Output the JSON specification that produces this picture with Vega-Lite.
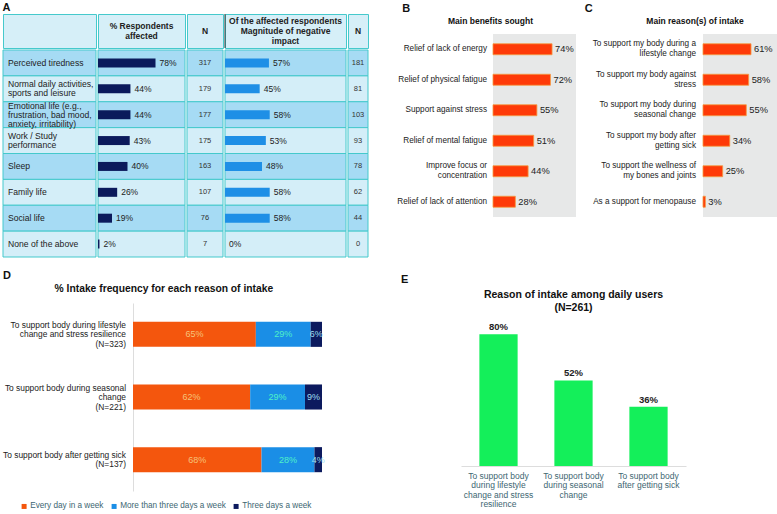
{
  "$schema": "https://vega.github.io/schema/vega-lite/v6.json",
  "background": "white",
  "padding": {"left": 2, "top": 2, "right": 0, "bottom": 0},
  "config": {
    "font": "Liberation Sans",
    "view": {"stroke": null},
    "title": {"font": "Liberation Sans", "color": "#111"},
    "axis": {"labelFont": "Liberation Sans"},
    "legend": {"labelFont": "Liberation Sans"},
    "text": {"font": "Liberation Sans"}
  },
  "datasets": {
    "titles": [
      {"p": "B", "t": "Main benefits sought"},
      {"p": "C", "t": "Main reason(s) of intake"}
    ],
    "head": [
      {"col": "c0", "label": ""},
      {"col": "c1", "label": "% Respondents|affected"},
      {"col": "c2", "label": "N"},
      {"col": "c3", "label": "Of the affected respondents|Magnitude of negative|impact"},
      {"col": "c4", "label": "N"}
    ],
    "table": [
      {"row": "Perceived tiredness", "affected": 0.78, "n1": 317, "magnitude": 0.57, "n2": 181},
      {"row": "Normal daily activities,|sports and leisure", "affected": 0.44, "n1": 179, "magnitude": 0.45, "n2": 81},
      {"row": "Emotional life (e.g.,|frustration,  bad mood,|anxiety, irritability)", "affected": 0.44, "n1": 177, "magnitude": 0.58, "n2": 103},
      {"row": "Work / Study|performance", "affected": 0.43, "n1": 175, "magnitude": 0.53, "n2": 93},
      {"row": "Sleep", "affected": 0.40, "n1": 163, "magnitude": 0.48, "n2": 78},
      {"row": "Family life", "affected": 0.26, "n1": 107, "magnitude": 0.58, "n2": 62},
      {"row": "Social life", "affected": 0.19, "n1": 76, "magnitude": 0.58, "n2": 44},
      {"row": "None of the above", "affected": 0.02, "n1": 7, "magnitude": 0.0, "n2": 0}
    ],
    "benefits": [
      {"label": "Relief of lack of energy", "v": 0.74},
      {"label": "Relief of physical fatigue", "v": 0.72},
      {"label": "Support against stress", "v": 0.55},
      {"label": "Relief of mental fatigue", "v": 0.51},
      {"label": "Improve focus or|concentration", "v": 0.44},
      {"label": "Relief of lack of attention", "v": 0.28}
    ],
    "reasons": [
      {"label": "To support my body during a|lifestyle change", "v": 0.61},
      {"label": "To support my body against|stress", "v": 0.58},
      {"label": "To support my body during|seasonal change", "v": 0.55},
      {"label": "To support my body after|getting sick", "v": 0.34},
      {"label": "To support the wellness of|my bones and joints", "v": 0.25},
      {"label": "As a support for menopause", "v": 0.03}
    ],
    "freq": [
      {"reason": "To support body during lifestyle|change and stress resilience|(N=323)", "cat": "Every day in a week", "pct": 0.65},
      {"reason": "To support body during lifestyle|change and stress resilience|(N=323)", "cat": "More than three days a week", "pct": 0.29},
      {"reason": "To support body during lifestyle|change and stress resilience|(N=323)", "cat": "Three days a week", "pct": 0.06},
      {"reason": "To support body during seasonal|change|(N=221)", "cat": "Every day in a week", "pct": 0.62},
      {"reason": "To support body during seasonal|change|(N=221)", "cat": "More than three days a week", "pct": 0.29},
      {"reason": "To support body during seasonal|change|(N=221)", "cat": "Three days a week", "pct": 0.09},
      {"reason": "To support body after getting sick|(N=137)", "cat": "Every day in a week", "pct": 0.68},
      {"reason": "To support body after getting sick|(N=137)", "cat": "More than three days a week", "pct": 0.28},
      {"reason": "To support body after getting sick|(N=137)", "cat": "Three days a week", "pct": 0.04}
    ],
    "daily": [
      {"reason": "To support body|during lifestyle|change and stress|resilience", "v": 0.80},
      {"reason": "To support body|during seasonal|change", "v": 0.52},
      {"reason": "To support body|after getting sick", "v": 0.36}
    ]
  },
  "spacing": 11,
  "resolve": {"scale": {"color": "independent"}, "legend": {"color": "independent"}},
  "vconcat": [
    {
      "spacing": 28,
      "hconcat": [
        {
          "title": {"text": "A", "anchor": "start", "fontSize": 11, "fontWeight": "bold", "offset": 0},
          "spacing": 0,
          "vconcat": [
            {
              "spacing": 0,
              "hconcat": [
                {
                  "width": 93, "height": 34,
                  "view": {"fill": "#d6eff8", "stroke": "#45c9cc", "strokeWidth": 1},
                  "data": {"name": "head"},
                  "transform": [{"filter": "datum.col == 'c0'"}],
                  "mark": {"type": "text", "lineBreak": "|", "fontWeight": "bold", "fontSize": 8.5, "color": "#222"},
                  "encoding": {"text": {"field": "label"}}
                },
                {
                  "width": 87, "height": 34,
                  "view": {"fill": "#d6eff8", "stroke": "#45c9cc", "strokeWidth": 1},
                  "data": {"name": "head"},
                  "transform": [{"filter": "datum.col == 'c1'"}],
                  "mark": {"type": "text", "lineBreak": "|", "fontWeight": "bold", "fontSize": 8.5, "color": "#222", "lineHeight": 10, "dy": -5},
                  "encoding": {"text": {"field": "label"}}
                },
                {
                  "width": 36, "height": 34,
                  "view": {"fill": "#d6eff8", "stroke": "#45c9cc", "strokeWidth": 1},
                  "data": {"name": "head"},
                  "transform": [{"filter": "datum.col == 'c2'"}],
                  "mark": {"type": "text", "lineBreak": "|", "fontWeight": "bold", "fontSize": 8.5, "color": "#222"},
                  "encoding": {"text": {"field": "label"}}
                },
                {
                  "width": 121, "height": 34,
                  "view": {"fill": "#d6eff8", "stroke": "#45c9cc", "strokeWidth": 1},
                  "data": {"name": "head"},
                  "transform": [{"filter": "datum.col == 'c3'"}],
                  "layer": [
                    {
                      "mark": {"type": "rule", "color": "#333", "strokeWidth": 1},
                      "encoding": {"x": {"datum": 0, "type": "quantitative", "scale": {"domain": [0, 1], "nice": false}, "axis": null}}
                    },
                    {
                      "mark": {"type": "text", "lineBreak": "|", "fontWeight": "bold", "fontSize": 8.5, "color": "#222", "lineHeight": 10, "dy": -10},
                      "encoding": {"text": {"field": "label"}}
                    }
                  ]
                },
                {
                  "width": 20, "height": 34,
                  "view": {"fill": "#d6eff8", "stroke": "#45c9cc", "strokeWidth": 1},
                  "data": {"name": "head"},
                  "transform": [{"filter": "datum.col == 'c4'"}],
                  "mark": {"type": "text", "lineBreak": "|", "fontWeight": "bold", "fontSize": 8.5, "color": "#222"},
                  "encoding": {"text": {"field": "label"}}
                }
              ]
            },
            {
              "spacing": 0,
              "hconcat": [
                {
                  "width": 93, "height": 207,
                  "data": {"name": "table"},
                  "encoding": {
                    "y": {"field": "row", "type": "nominal", "sort": null, "scale": {"paddingInner": 0, "paddingOuter": 0}, "axis": null}
                  },
                  "layer": [
                    {
                      "mark": {"type": "rect", "stroke": "#45c9cc", "strokeWidth": 1},
                      "encoding": {
                        "x": {"datum": 0, "type": "quantitative", "scale": {"domain": [0, 1], "nice": false}, "axis": null},
                        "x2": {"datum": 1},
                        "fill": {"field": "row", "type": "nominal", "sort": null, "legend": null,
                          "scale": {"range": ["#a6dbf4", "#d4eef8", "#a6dbf4", "#d4eef8", "#a6dbf4", "#d4eef8", "#a6dbf4", "#d4eef8"]}}
                      }
                    },
                    {
                      "mark": {"type": "text", "align": "left", "dx": 5, "lineBreak": "|", "lineHeight": 9, "fontSize": 8.6, "color": "#222",
                        "dy": {"expr": "-(length(split(datum.row, '|')) - 1) * 4.5"}},
                      "encoding": {
                        "x": {"datum": 0, "type": "quantitative"},
                        "text": {"field": "row"}
                      }
                    }
                  ]
                },
                {
                  "width": 87, "height": 207,
                  "data": {"name": "table"},
                  "encoding": {
                    "y": {"field": "row", "type": "nominal", "sort": null, "scale": {"paddingInner": 0, "paddingOuter": 0}, "axis": null}
                  },
                  "layer": [
                    {
                      "mark": {"type": "rect", "stroke": "#45c9cc", "strokeWidth": 1},
                      "encoding": {
                        "x": {"datum": 0, "type": "quantitative", "scale": {"domain": [0, 1.18], "nice": false}, "axis": null},
                        "x2": {"datum": 1.18},
                        "fill": {"field": "row", "type": "nominal", "sort": null, "legend": null}
                      }
                    },
                    {
                      "mark": {"type": "bar", "color": "#0b1a5c", "size": 9},
                      "encoding": {"x": {"field": "affected", "type": "quantitative"}}
                    },
                    {
                      "mark": {"type": "text", "align": "left", "dx": 4, "fontSize": 8.5, "color": "#222"},
                      "encoding": {"x": {"field": "affected", "type": "quantitative"}, "text": {"field": "affected", "format": ".0%"}}
                    }
                  ]
                },
                {
                  "width": 36, "height": 207,
                  "data": {"name": "table"},
                  "encoding": {
                    "y": {"field": "row", "type": "nominal", "sort": null, "scale": {"paddingInner": 0, "paddingOuter": 0}, "axis": null}
                  },
                  "layer": [
                    {
                      "mark": {"type": "rect", "stroke": "#45c9cc", "strokeWidth": 1},
                      "encoding": {"fill": {"field": "row", "type": "nominal", "sort": null, "legend": null}}
                    },
                    {
                      "mark": {"type": "text", "fontSize": 7.5, "color": "#333"},
                      "encoding": {"text": {"field": "n1"}}
                    }
                  ]
                },
                {
                  "width": 121, "height": 207,
                  "data": {"name": "table"},
                  "encoding": {
                    "y": {"field": "row", "type": "nominal", "sort": null, "scale": {"paddingInner": 0, "paddingOuter": 0}, "axis": null}
                  },
                  "layer": [
                    {
                      "mark": {"type": "rect", "stroke": "#45c9cc", "strokeWidth": 1},
                      "encoding": {
                        "x": {"datum": 0, "type": "quantitative", "scale": {"domain": [0, 1.57], "nice": false}, "axis": null},
                        "x2": {"datum": 1.57},
                        "fill": {"field": "row", "type": "nominal", "sort": null, "legend": null}
                      }
                    },
                    {
                      "mark": {"type": "rule", "color": "#333", "strokeWidth": 1},
                      "encoding": {"x": {"datum": 0, "type": "quantitative"}}
                    },
                    {
                      "mark": {"type": "bar", "color": "#1e8fe6", "size": 9},
                      "encoding": {"x": {"field": "magnitude", "type": "quantitative"}}
                    },
                    {
                      "mark": {"type": "text", "align": "left", "dx": 4, "fontSize": 8.5, "color": "#222"},
                      "encoding": {"x": {"field": "magnitude", "type": "quantitative"}, "text": {"field": "magnitude", "format": ".0%"}}
                    }
                  ]
                },
                {
                  "width": 20, "height": 207,
                  "data": {"name": "table"},
                  "encoding": {
                    "y": {"field": "row", "type": "nominal", "sort": null, "scale": {"paddingInner": 0, "paddingOuter": 0}, "axis": null}
                  },
                  "layer": [
                    {
                      "mark": {"type": "rect", "stroke": "#45c9cc", "strokeWidth": 1},
                      "encoding": {"fill": {"field": "row", "type": "nominal", "sort": null, "legend": null}}
                    },
                    {
                      "mark": {"type": "text", "fontSize": 7.5, "color": "#333"},
                      "encoding": {"text": {"field": "n2"}}
                    }
                  ]
                }
              ]
            }
          ]
        },
        {
          "spacing": 8,
          "hconcat": [
            {
              "title": {"text": "B", "anchor": "start", "fontSize": 11, "fontWeight": "bold", "offset": 0, "dx": 5},
              "spacing": 0,
              "vconcat": [
                {
                  "width": 83, "height": 20,
                  "data": {"name": "titles"},
                  "transform": [{"filter": "datum.p == 'B'"}],
                  "mark": {"type": "text", "fontSize": 8.5, "fontWeight": "bold", "color": "#111", "dx": -44, "dy": -3},
                  "encoding": {"text": {"field": "t"}}
                },
                {
                  "width": 83, "height": 183,
                  "view": {"fill": "#e7e8e8"},
                  "data": {"name": "benefits"},
                  "encoding": {
                    "y": {"field": "label", "type": "nominal", "sort": null, "scale": {"paddingInner": 0.64, "paddingOuter": 0.32}, "axis": null},
                    "x": {"field": "v", "type": "quantitative", "scale": {"domain": [0, 1.04], "nice": false}, "axis": null}
                  },
                  "layer": [
                    {"mark": {"type": "bar", "color": "#fe3a08", "stroke": "#f59a40", "strokeWidth": 0.8}},
                    {"mark": {"type": "text", "align": "left", "dx": 3, "fontSize": 9.3, "color": "#222"}, "encoding": {"text": {"field": "v", "format": ".0%"}}},
                    {
                      "mark": {"type": "text", "align": "right", "dx": -6, "lineBreak": "|", "lineHeight": 10, "fontSize": 8.2, "color": "#222",
                        "dy": {"expr": "-(length(split(datum.label, '|')) - 1) * 5"}},
                      "encoding": {"x": {"datum": 0, "type": "quantitative"}, "text": {"field": "label"}}
                    }
                  ]
                }
              ]
            },
            {
              "title": {"text": "C", "anchor": "start", "fontSize": 11, "fontWeight": "bold", "offset": 0, "dx": -8},
              "spacing": 0,
              "vconcat": [
                {
                  "width": 74, "height": 20,
                  "data": {"name": "titles"},
                  "transform": [{"filter": "datum.p == 'C'"}],
                  "mark": {"type": "text", "fontSize": 8.5, "fontWeight": "bold", "color": "#111", "dx": -45, "dy": -3},
                  "encoding": {"text": {"field": "t"}}
                },
                {
                  "width": 74, "height": 183,
                  "view": {"fill": "#e7e8e8"},
                  "data": {"name": "reasons"},
                  "encoding": {
                    "y": {"field": "label", "type": "nominal", "sort": null, "scale": {"paddingInner": 0.64, "paddingOuter": 0.32}, "axis": null},
                    "x": {"field": "v", "type": "quantitative", "scale": {"domain": [0, 0.94], "nice": false}, "axis": null}
                  },
                  "layer": [
                    {"mark": {"type": "bar", "color": "#fe3a08", "stroke": "#f59a40", "strokeWidth": 0.8}},
                    {"mark": {"type": "text", "align": "left", "dx": 3, "fontSize": 9.3, "color": "#222"}, "encoding": {"text": {"field": "v", "format": ".0%"}}},
                    {
                      "mark": {"type": "text", "align": "right", "dx": -7, "lineBreak": "|", "lineHeight": 10, "fontSize": 8.2, "color": "#222",
                        "dy": {"expr": "-(length(split(datum.label, '|')) - 1) * 5"}},
                      "encoding": {"x": {"datum": 0, "type": "quantitative"}, "text": {"field": "label"}}
                    }
                  ]
                }
              ]
            }
          ]
        }
      ]
    },
    {
      "spacing": 76,
      "resolve": {"scale": {"color": "independent"}, "legend": {"color": "independent"}},
      "hconcat": [
        {
          "title": {"text": "D", "anchor": "start", "fontSize": 11, "fontWeight": "bold", "offset": 3},
          "resolve": {"scale": {"color": "independent"}, "legend": {"color": "independent"}},
          "vconcat": [
            {
              "title": {"text": "% Intake frequency for each reason of intake", "fontSize": 10.3, "fontWeight": "bold", "anchor": "middle", "frame": "bounds", "offset": 9},
              "bounds": "flush",
              "spacing": 7,
              "resolve": {"scale": {"color": "independent"}, "legend": {"color": "independent"}},
              "hconcat": [
                {
                  "width": 123, "height": 188,
                  "data": {"name": "freq"},
                  "transform": [{"filter": "datum.cat == 'Every day in a week'"}],
                  "mark": {"type": "text", "align": "right", "lineBreak": "|", "lineHeight": 9.5, "fontSize": 8.4, "color": "#222",
                    "dy": {"expr": "-(length(split(datum.reason, '|')) - 1) * 4.75"}},
                  "encoding": {
                    "y": {"field": "reason", "type": "nominal", "sort": null, "scale": {"paddingInner": 0.6, "paddingOuter": 0.3}, "axis": null},
                    "x": {"datum": 1, "type": "quantitative", "scale": {"domain": [0, 1], "nice": false}, "axis": null},
                    "text": {"field": "reason"}
                  }
                },
                {
                  "width": 189, "height": 188,
                  "data": {"name": "freq"},
                  "encoding": {
                    "y": {"field": "reason", "type": "nominal", "sort": null, "scale": {"paddingInner": 0.6, "paddingOuter": 0.3},
                      "axis": {"title": null, "labels": false, "domainColor": "#dddddd", "ticks": false}},
                    "x": {"field": "pct", "type": "quantitative", "stack": "zero", "scale": {"domain": [0, 1], "nice": false}, "axis": null}
                  },
                  "layer": [
                    {
                      "mark": {"type": "bar"},
                      "encoding": {
                        "color": {"field": "cat", "type": "nominal", "title": null,
                          "scale": {"domain": ["Every day in a week", "More than three days a week", "Three days a week"], "range": ["#f4560d", "#1a8ee6", "#0c1a5e"]},
                          "legend": {"orient": "none", "legendX": -113, "legendY": 199, "direction": "horizontal", "symbolType": "square", "symbolSize": 25, "labelFontSize": 8.2, "labelOffset": 2, "labelColor": "#3d6672", "columnPadding": 6, "symbolStrokeWidth": 0}},
                        "order": {"field": "cat", "sort": "ascending"}
                      }
                    },
                    {
                      "mark": {"type": "text", "fontSize": 9},
                      "encoding": {
                        "x": {"field": "pct", "type": "quantitative", "stack": "zero", "bandPosition": 0.5},
                        "order": {"field": "cat", "sort": "ascending"},
                        "text": {"field": "pct", "format": ".0%"},
                        "color": {"condition": [
                          {"test": "datum.cat == 'Every day in a week'", "value": "#f6c27a"},
                          {"test": "datum.cat == 'More than three days a week'", "value": "#4ff0c8"}
                        ], "value": "#9fdff0"}
                      }
                    }
                  ]
                }
              ]
            }
          ]
        },
        {
          "title": {"text": "E", "anchor": "start", "fontSize": 11, "fontWeight": "bold", "offset": 5, "dx": -60},
          "vconcat": [
            {
              "width": 225, "height": 163,
              "title": {"text": ["Reason of intake among daily users", "(N=261)"], "fontSize": 10.5, "fontWeight": "bold", "anchor": "middle", "offset": -10},
              "data": {"name": "daily"},
              "encoding": {
                "x": {"field": "reason", "type": "nominal", "sort": null, "scale": {"paddingInner": 0.49, "paddingOuter": 0.245},
                  "axis": {"title": null, "labelAngle": 0, "ticks": false, "domainColor": "#dddddd", "labelExpr": "split(datum.label, '|')", "labelFontSize": 8.5, "labelColor": "#3d6672", "labelPadding": 5, "labelLineHeight": 9.5, "labelLimit": 0}},
                "y": {"field": "v", "type": "quantitative", "scale": {"domain": [0, 0.99], "nice": false}, "axis": null}
              },
              "layer": [
                {"mark": {"type": "bar", "color": "#14ef5a"}},
                {"mark": {"type": "text", "dy": -7, "fontSize": 9.5, "fontWeight": "bold", "color": "#222"}, "encoding": {"text": {"field": "v", "format": ".0%"}}}
              ]
            }
          ]
        }
      ]
    }
  ]
}
